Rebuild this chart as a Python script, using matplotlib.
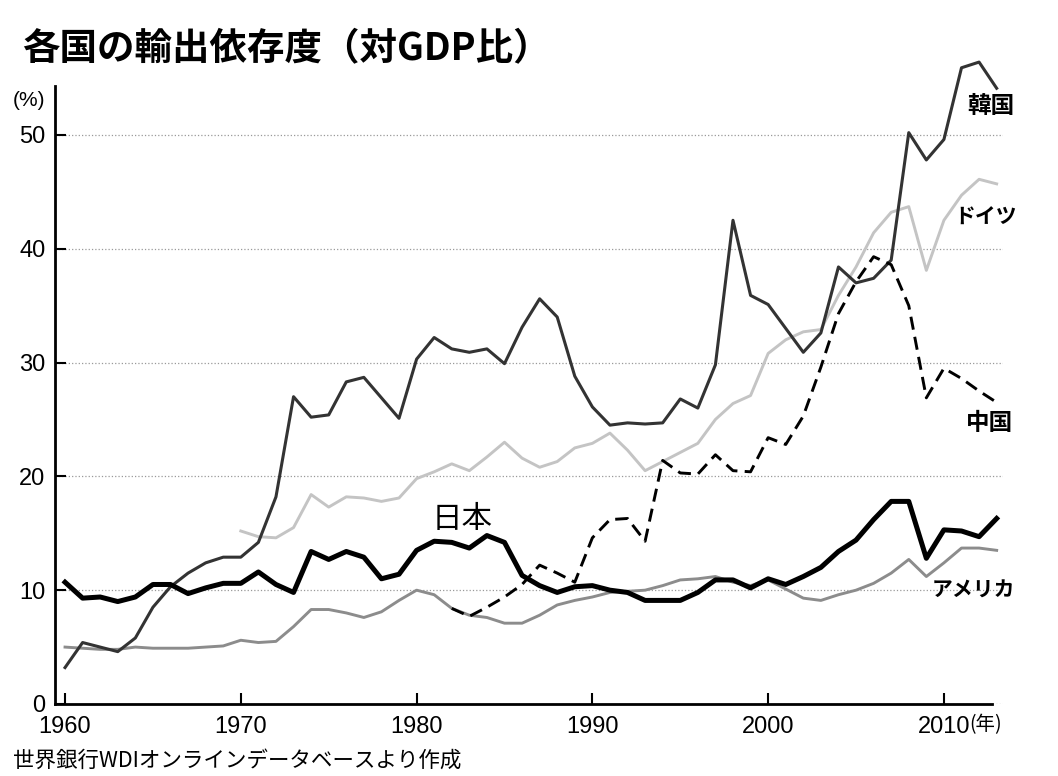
import numpy as np
import matplotlib.pyplot as plt

plt.rcParams['font.family'] = ['Noto Sans CJK JP', 'DejaVu Sans']

# 各国の輸出依存度（対GDP比, %）— 図から読み取った値
years = np.arange(1960, 2014)

korea = [3.2, 5.4, 5.0, 4.6, 5.8, 8.5, 10.3, 11.5, 12.4, 12.9,
         12.9, 14.2, 18.2, 27.0, 25.2, 25.4, 28.3, 28.7, 26.9, 25.1,
         30.3, 32.2, 31.2, 30.9, 31.2, 29.9, 33.1, 35.6, 34.0, 28.8,
         26.1, 24.5, 24.7, 24.6, 24.7, 26.8, 26.0, 29.8, 42.5, 35.9,
         35.1, 33.0, 30.9, 32.6, 38.4, 37.0, 37.4, 39.0, 50.2, 47.8,
         49.6, 55.9, 56.4, 54.1]

germany_years = np.arange(1970, 2014)
germany = [15.2, 14.7, 14.6, 15.5, 18.4, 17.3, 18.2, 18.1, 17.8, 18.1,
           19.8, 20.4, 21.1, 20.5, 21.7, 23.0, 21.6, 20.8, 21.3, 22.5,
           22.9, 23.8, 22.3, 20.5, 21.3, 22.1, 22.9, 25.0, 26.4, 27.1,
           30.8, 32.0, 32.7, 32.9, 35.9, 38.4, 41.4, 43.2, 43.7, 38.1,
           42.5, 44.7, 46.1, 45.7]

usa = [5.0, 4.9, 4.8, 4.8, 5.0, 4.9, 4.9, 4.9, 5.0, 5.1,
       5.6, 5.4, 5.5, 6.8, 8.3, 8.3, 8.0, 7.6, 8.1, 9.1,
       10.0, 9.6, 8.4, 7.8, 7.6, 7.1, 7.1, 7.8, 8.7, 9.1,
       9.4, 9.8, 9.9, 10.0, 10.4, 10.9, 11.0, 11.2, 10.7, 10.4,
       10.9, 10.1, 9.3, 9.1, 9.6, 10.0, 10.6, 11.5, 12.7, 11.2,
       12.4, 13.7, 13.7, 13.5]

japan = [10.7, 9.3, 9.4, 9.0, 9.4, 10.5, 10.5, 9.7, 10.2, 10.6,
         10.6, 11.6, 10.5, 9.8, 13.4, 12.7, 13.4, 12.9, 11.0, 11.4,
         13.5, 14.3, 14.2, 13.7, 14.8, 14.2, 11.3, 10.4, 9.8, 10.3,
         10.4, 10.0, 9.8, 9.1, 9.1, 9.1, 9.8, 10.9, 10.9, 10.2,
         11.0, 10.5, 11.2, 12.0, 13.4, 14.4, 16.2, 17.8, 17.8, 12.8,
         15.3, 15.2, 14.7, 16.3]

china_years = np.arange(1982, 2014)
china = [8.4, 7.7, 8.5, 9.4, 10.5, 12.2, 11.5, 10.7,
         14.6, 16.2, 16.3, 14.3, 21.4, 20.3, 20.2, 21.9, 20.5, 20.4,
         23.4, 22.8, 25.3, 29.6, 34.3, 37.1, 39.3, 38.6, 35.0, 26.9,
         29.5, 28.6, 27.5, 26.5]

yticks = [0, 10, 20, 30, 40, 50]
xticks = [1960, 1970, 1980, 1990, 2000, 2010]

fig = plt.figure(figsize=(10.58, 7.76), dpi=100)
ax = fig.add_axes([0.052, 0.0928, 0.896, 0.7964])

ax.plot(years, usa, color='#8c8c8c', lw=2.1, zorder=2, clip_on=False)
ax.plot(germany_years, germany, color='#c4c4c4', lw=2.1, zorder=2, clip_on=False)
ax.plot(years, korea, color='#333333', lw=2.2, zorder=3, clip_on=False)
ax.plot(china_years, china, color='black', lw=2.1, ls=(0, (4.5, 2.5)), zorder=4,
        clip_on=False)
ax.plot(years, japan, color='black', lw=3.6, zorder=5, clip_on=False)

ax.set_xlim(1959.43, 2013.36)
ax.set_ylim(0, 54.3)
ax.spines['top'].set_visible(False)
ax.spines['right'].set_visible(False)
ax.spines['bottom'].set_bounds(1959.43, 2012.73)
ax.spines['left'].set_linewidth(2)
ax.spines['bottom'].set_linewidth(2)

ax.set_yticks(yticks)
ax.set_xticks(xticks)
ax.set_xticklabels([str(v) for v in xticks], family='Liberation Sans')
ax.set_yticklabels([str(v) for v in yticks], family='Liberation Sans')
ax.tick_params(axis='both', direction='in', length=8, width=1.5, labelsize=17)
ax.tick_params(axis='y', pad=7)
ax.tick_params(axis='x', pad=9)
ax.yaxis.grid(True, linestyle=':', color='#999999', lw=0.9)
ax.set_axisbelow(True)

# 単位
ax.annotate('(年)', xy=(2010, 0), xycoords=('data', 'axes fraction'),
            xytext=(18, -7), textcoords='offset points', ha='left', va='top',
            fontsize=14)
fig.text(0.012, 0.870, '(%)', fontsize=15, family='Liberation Sans', va='center')

# 系列ラベル
ax.text(2012.67, 52.5, '韓国', fontsize=17, fontweight='bold', ha='center', va='center')
ax.text(2012.39, 42.8, 'ドイツ', fontsize=15, fontweight='bold', ha='center', va='center')
ax.text(2012.6, 24.7, '中国', fontsize=17, fontweight='bold', ha='center', va='center')
ax.text(2011.65, 10.0, 'アメリカ', fontsize=15, fontweight='bold', ha='center', va='center')
ax.text(1982.6, 16.2, '日本', fontsize=22, ha='center', va='center')

fig.text(0.021, 0.937, '各国の輸出依存度（対GDP比）', fontsize=27, fontweight='bold',
         va='center')
fig.text(0.012, 0.020, '世界銀行WDIオンラインデータベースより作成', fontsize=15.5,
         va='center')

fig.savefig('out.png', dpi=100)
